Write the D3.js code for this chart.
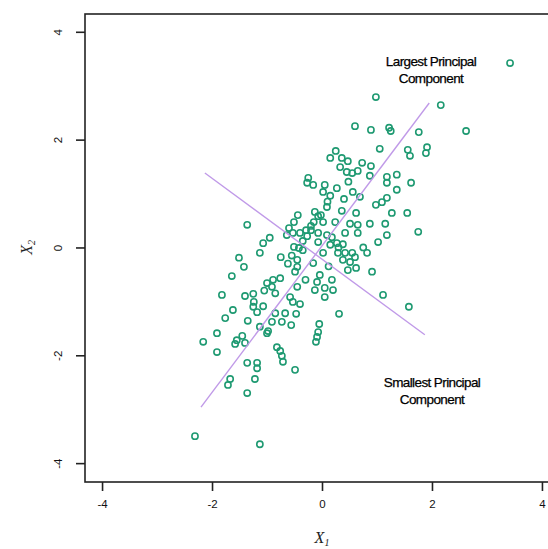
<!DOCTYPE html>
<html>
<head>
<meta charset="utf-8">
<script src="https://cdn.jsdelivr.net/npm/d3@7"></script>
<style>
  html, body { margin: 0; padding: 0; background: #fff; }
  svg { display: block; }
</style>
</head>
<body>
<svg id="chart" width="548" height="549"></svg>
<script>
// Observations (X1, X2)
const x1Values = [
  3.42, 0.98, 2.16, 0.60, 0.89, 1.22, 1.25, 1.76, 2.62, 1.05,
  1.56, 1.60, 1.91, 1.89, 0.25, 0.15, 0.36, 0.47, 0.33, 0.45,
  0.55, 0.65, 0.73, 0.89, 0.87, -0.25, -0.27, -0.16, 0.05, 0.27,
  0.02, 0.15, 0.56, 0.69, 0.09, 0.36, 0.98, 1.09, 1.18, -0.13,
  -0.07, -0.44, 0.62, 1.36, 1.18, 1.18, 1.62, 1.36, 1.27, 1.55,
  1.75, 1.18, 1.02, -0.15, 0.02, 0.24, 0.51, 0.65, 0.87, 1.15,
  0.42, 0.65, -0.07, 0.09, 0.18, -0.07, 0.15, 0.27, 0.38, 0.02,
  0.29, 0.42, 0.55, 0.60, 0.38, 0.51, 0.82, 0.47, -0.16, 0.91,
  -0.04, -0.09, 0.18, 0.05, 0.20, -0.13, 1.11, 0.05, -0.51, -0.60,
  -0.64, -0.53, -0.40, -0.29, -0.20, -0.27, -0.51, -0.42, -0.35, -0.75,
  -0.45, -0.45, -0.49, -1.36, -0.95, -1.07, -1.13, -1.51, -1.42, -1.64,
  -1.82, -1.40, -1.25, -0.76, -0.89, -1.00, -0.91, -0.45, -0.58, -1.24,
  -1.25, -1.07, -1.18, -1.62, -1.76, -1.35, -0.85, -0.91, -0.73, -0.67,
  -1.91, -2.16, -1.45, -1.55, -1.58, -1.40, -1.13, -1.00, -0.98, -0.82,
  -0.76, -0.73, -0.71, -1.91, -1.36, -1.18, -1.18, -1.67, -1.71, -1.22,
  -1.36, -2.31, -1.13, -0.53, -0.40, -0.47, -0.56, 0.31, 1.58, -0.05,
  -0.07, -0.09, -0.11, -0.49,
  0.40, 0.10, -0.20, 0.30, -0.35, 0.75, -0.62, -0.30, 0.62, -0.85,
  0.12, -0.02, 0.48, -1.05, -0.55
];
const x2Values = [
  3.42, 2.79, 2.64, 2.25, 2.18, 2.22, 2.16, 2.14, 2.16, 1.83,
  1.81, 1.70, 1.86, 1.75, 1.79, 1.66, 1.66, 1.60, 1.49, 1.40,
  1.38, 1.42, 1.57, 1.51, 1.33, 1.29, 1.20, 1.16, 1.16, 1.10,
  1.03, 0.96, 1.03, 0.94, 0.75, 0.68, 0.79, 0.84, 0.92, 0.66,
  0.58, 0.60, 0.64, 1.35, 1.31, 1.20, 1.20, 1.07, 0.64, 0.64,
  0.29, 0.23, 0.10, 0.47, 0.47, 0.47, 0.44, 0.42, 0.44, 0.44,
  0.27, 0.27, 0.27, 0.23, 0.19, 0.10, 0.05, 0.08, 0.06, -0.10,
  -0.10, -0.10, -0.10, -0.18, -0.23, -0.27, -0.10, -0.42, -0.29, -0.45,
  -0.51, -0.64, -0.60, -0.75, -0.79, -0.79, -0.88, -0.92, 0.47, 0.36,
  0.23, 0.27, 0.27, 0.32, 0.32, 0.21, 0.01, -0.01, -0.05, -0.18,
  -0.23, -0.36, -0.45, 0.42, 0.18, 0.08, -0.10, -0.19, -0.36, -0.53,
  -0.88, -0.90, -0.86, -0.57, -0.60, -0.66, -0.73, -0.73, -0.92, -1.01,
  -1.10, -1.09, -1.20, -1.16, -1.31, -1.36, -1.22, -1.38, -1.38, -1.22,
  -1.59, -1.75, -1.64, -1.72, -1.79, -1.77, -1.47, -1.59, -1.55, -1.85,
  -1.92, -2.01, -2.12, -1.94, -2.14, -2.14, -2.24, -2.44, -2.55, -2.44,
  -2.70, -3.50, -3.65, -1.01, -1.05, -1.23, -1.44, -1.23, -1.10, -1.42,
  -1.57, -1.66, -1.75, -2.27,
  0.90, 0.85, 0.40, 0.00, 0.12, 0.00, -0.30, -0.60, -0.38, -0.85,
  -0.35, 0.60, 1.22, -0.80, -0.15
];

// Principal component directions drawn as segments (start, end)
const largestPC = [[-2.20, -2.96], [1.95, 2.68]];
const smallestPC = [[-2.13, 1.38], [1.87, -1.62]];

// Axis ticks
const xTicks = [-4, -2, 0, 2, 4];
const yTicks = [-4, -2, 0, 2, 4];

// Annotation labels
const largestLabel = ["Largest Principal", "Component"];
const smallestLabel = ["Smallest Principal", "Component"];

const svg = d3.select("#chart");
const plotLeft = 85, plotRight = 559, plotTop = 14, plotBottom = 482;

const x = d3.scaleLinear().domain([-4.31, 4.31]).range([plotLeft, plotRight]);
const y = d3.scaleLinear().domain([-4.35, 4.33]).range([plotBottom, plotTop]);

const pointColor = "#1f9a72";
const lineColor = "#c09ae8";
const font = "'Liberation Sans', Arial, sans-serif";

// Points
const data = x1Values.map((v, i) => ({ x1: v, x2: x2Values[i] }));
svg.append("g")
  .selectAll("circle")
  .data(data)
  .join("circle")
  .attr("cx", d => x(d.x1))
  .attr("cy", d => y(d.x2))
  .attr("r", 3.1)
  .attr("fill", "none")
  .attr("stroke", pointColor)
  .attr("stroke-width", 1.6);

// Principal component segments
const line = d3.line().x(d => x(d[0])).y(d => y(d[1]));
[largestPC, smallestPC].forEach(seg => {
  svg.append("path")
    .attr("d", line(seg))
    .attr("fill", "none")
    .attr("stroke", lineColor)
    .attr("stroke-width", 1.4);
});

// Plot frame
svg.append("rect")
  .attr("x", plotLeft).attr("y", plotTop)
  .attr("width", plotRight - plotLeft).attr("height", plotBottom - plotTop)
  .attr("fill", "none")
  .attr("stroke", "#222")
  .attr("stroke-width", 1.6);

// Axes
const xAxis = d3.axisBottom(x).tickValues(xTicks).tickSize(9).tickPadding(9)
  .tickFormat(d => String(d));
const gx = svg.append("g").attr("transform", `translate(0,${plotBottom})`).call(xAxis);
gx.select(".domain").remove();
gx.selectAll(".tick line").attr("stroke", "#222").attr("stroke-width", 1.6);
gx.selectAll(".tick text")
  .attr("font-family", font).attr("font-size", 11.5).attr("fill", "#111");

const yAxis = d3.axisLeft(y).tickValues(yTicks).tickSize(9).tickFormat(d => String(d));
const gy = svg.append("g").attr("transform", `translate(${plotLeft},0)`).call(yAxis);
gy.select(".domain").remove();
gy.selectAll(".tick line").attr("stroke", "#222").attr("stroke-width", 1.6);
gy.selectAll(".tick text")
  .attr("x", null).attr("dy", null)
  .attr("transform", "translate(-27,0) rotate(-90)")
  .attr("text-anchor", "middle")
  .attr("dominant-baseline", "central")
  .attr("font-family", font).attr("font-size", 11.5).attr("fill", "#111");

// Axis titles
const xt = svg.append("text")
  .attr("x", x(0)).attr("y", 543)
  .attr("text-anchor", "middle")
  .attr("font-family", "'Liberation Serif', 'DejaVu Serif', serif")
  .attr("font-style", "italic").attr("font-size", 16).attr("fill", "#222");
xt.append("tspan").text("X");
xt.append("tspan").attr("font-size", 10).attr("dy", 3).text("1");

const yt = svg.append("text")
  .attr("transform", `translate(32,${y(0)}) rotate(-90)`)
  .attr("text-anchor", "middle")
  .attr("font-family", "'Liberation Serif', 'DejaVu Serif', serif")
  .attr("font-style", "italic").attr("font-size", 16).attr("fill", "#222");
yt.append("tspan").text("X");
yt.append("tspan").attr("font-size", 10).attr("dy", 3).text("2");

// Annotations
function annotate(lines, cx, firstBaseline) {
  svg.append("g").selectAll("text")
    .data(lines)
    .join("text")
    .attr("x", cx)
    .attr("y", (d, i) => firstBaseline + i * 16.5)
    .attr("text-anchor", "middle")
    .attr("font-family", font)
    .attr("font-size", 13.5)
    .attr("letter-spacing", -0.6)
    .attr("fill", "#000")
    .attr("stroke", "#000")
    .attr("stroke-width", 0.25)
    .text(d => d);
}
annotate(largestLabel, 431, 66);
annotate(smallestLabel, 432, 387);
</script>
</body>
</html>
